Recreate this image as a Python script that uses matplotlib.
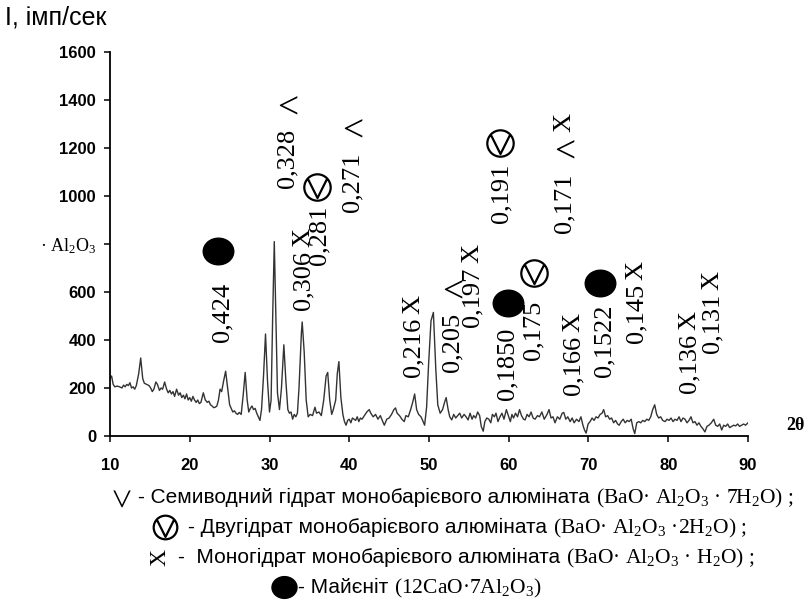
import matplotlib
matplotlib.use('Agg')
import matplotlib.pyplot as plt
from matplotlib.path import Path
from matplotlib.transforms import Affine2D
from matplotlib.lines import Line2D

plt.rcParams['font.family'] = ['Liberation Sans', 'DejaVu Sans']
plt.rcParams['mathtext.fontset'] = 'custom'
plt.rcParams['mathtext.rm'] = 'Liberation Serif'
plt.rcParams['mathtext.it'] = 'Liberation Serif:italic'
plt.rcParams['mathtext.bf'] = 'Liberation Serif:bold'

# XRD pattern (2 theta, counts per second)
two_theta = [10.0, 10.2, 10.4, 10.6, 10.9, 11.2, 11.5, 11.7, 11.9, 12.1,
             12.3, 12.5, 12.7, 12.9, 13.1, 13.3, 13.6, 13.85, 14.1, 14.3,
             14.6, 14.9, 15.1, 15.3, 15.5, 15.75, 15.95, 16.2, 16.4, 16.6,
             16.85, 17.1, 17.3, 17.5, 17.7, 17.9, 18.1, 18.35, 18.6, 18.8,
             19.0, 19.2, 19.4, 19.6, 19.8, 20.0, 20.2, 20.4, 20.6, 20.8,
             21.0, 21.2, 21.4, 21.7, 21.95, 22.2, 22.4, 22.6, 22.8, 23.0,
             23.2, 23.4, 23.6, 23.8, 24.0, 24.25, 24.5, 24.75, 25.0, 25.2,
             25.4, 25.6, 25.8, 26.0, 26.2, 26.45, 26.7, 26.95, 27.2, 27.4,
             27.6, 27.8, 28.0, 28.2, 28.4, 28.6, 28.8, 29.0, 29.25, 29.5,
             29.75, 30.0, 30.2, 30.4, 30.6, 30.8, 31.0, 31.25, 31.5, 31.8,
             32.05, 32.3, 32.5, 32.7, 32.9, 33.1, 33.3, 33.5, 33.7, 34.0,
             34.1, 34.35, 34.6, 34.85, 35.1, 35.4, 35.7, 35.9, 36.2, 36.5,
             36.8, 37.1, 37.3, 37.55, 37.8, 38.0, 38.3, 38.5, 38.7, 38.95,
             39.2, 39.4, 39.6, 39.8, 40.0, 40.2, 40.4, 40.6, 40.8, 41.0,
             41.2, 41.4, 41.6, 41.9, 42.2, 42.5, 42.7, 43.0, 43.3, 43.6,
             43.9, 44.2, 44.4, 44.7, 45.0, 45.3, 45.6, 45.8, 46.0, 46.3,
             46.6, 46.9, 47.1, 47.4, 47.7, 47.95, 48.2, 48.45, 48.7, 49.0,
             49.2, 49.45, 49.7, 49.95, 50.25, 50.55, 50.85, 51.1, 51.4, 51.7,
             51.95, 52.15, 52.4, 52.6, 52.85, 53.1, 53.35, 53.6, 53.85, 54.1,
             54.4, 54.65, 54.9, 55.15, 55.4, 55.6, 55.85, 56.1, 56.35, 56.55,
             56.8, 57.0, 57.25, 57.5, 57.75, 57.95, 58.2, 58.4, 58.65, 58.9,
             59.15, 59.4, 59.7, 59.95, 60.2, 60.4, 60.6, 60.85, 61.1, 61.35,
             61.6, 61.85, 62.05, 62.3, 62.55, 62.8, 63.05, 63.3, 63.6, 63.85,
             64.15, 64.45, 64.8, 65.05, 65.3, 65.55, 65.8, 66.1, 66.4, 66.7,
             66.9, 67.15, 67.4, 67.7, 67.95, 68.2, 68.5, 68.8, 69.05, 69.3,
             69.5, 69.7, 69.95, 70.2, 70.45, 70.7, 70.95, 71.2, 71.45, 71.7,
             71.9, 72.15, 72.4, 72.65, 72.9, 73.15, 73.4, 73.65, 73.85, 74.1,
             74.35, 74.6, 74.85, 75.1, 75.35, 75.6, 75.8, 76.05, 76.3, 76.55,
             76.8, 77.05, 77.3, 77.55, 77.8, 78.05, 78.3, 78.55, 78.8, 79.05,
             79.3, 79.6, 79.85, 80.1, 80.35, 80.6, 80.85, 81.1, 81.35, 81.6,
             81.85, 82.1, 82.35, 82.6, 82.85, 83.1, 83.35, 83.6, 83.85, 84.1,
             84.35, 84.6, 84.85, 85.1, 85.4, 85.7, 85.95, 86.2, 86.45, 86.7,
             86.95, 87.2, 87.45, 87.7, 87.95, 88.2, 88.45, 88.7, 88.95, 89.2,
             89.45, 89.7, 90.0]
intensity = [240, 250, 215, 205, 208, 205, 200, 212, 205, 215,
             210, 222, 200, 205, 195, 210, 260, 325, 240, 220,
             215, 210, 200, 185, 195, 225, 215, 190, 200, 195,
             225, 195, 180, 190, 175, 185, 165, 195, 170, 180,
             160, 170, 155, 175, 150, 160, 145, 165, 150, 140,
             150, 135, 140, 180, 150, 140, 145, 130, 125, 118,
             120, 125, 150, 195, 185, 230, 270, 200, 130, 115,
             100, 105, 95, 90, 98, 90, 170, 265, 150, 100,
             115, 125, 110, 115, 95, 80, 65, 110, 250, 425,
             230, 100, 150, 500, 810, 500, 180, 110, 200, 380,
             230, 110, 95, 100, 70, 90, 80, 95, 200, 430,
             475, 350, 150, 80, 90, 85, 120, 95, 100, 85,
             150, 250, 265, 150, 90, 110, 150, 260, 310, 160,
             90, 60, 45, 65, 70, 55, 75, 70, 65, 80,
             60, 75, 70, 85, 100, 110, 95, 80, 90, 70,
             85, 60, 45, 70, 75, 90, 110, 117, 95, 85,
             70, 60, 85, 80, 110, 140, 175, 110, 90, 80,
             65, 45, 120, 300, 480, 515, 280, 130, 95, 110,
             140, 160, 110, 80, 67, 90, 75, 85, 95, 75,
             90, 80, 67, 95, 70, 85, 75, 100, 85, 40,
             20, 60, 75, 70, 55, 90, 80, 95, 60, 80,
             95, 70, 110, 85, 60, 90, 75, 95, 80, 110,
             85, 70, 67, 90, 80, 100, 75, 70, 85, 80,
             100, 70, 90, 110, 75, 80, 55, 80, 70, 95,
             98, 70, 80, 60, 75, 55, 70, 60, 80, 45,
             25, 12, 50, 60, 75, 65, 80, 75, 90, 95,
             110, 80, 85, 70, 75, 55, 65, 50, 45, 60,
             70, 55, 65, 60, 70, 30, 10, 55, 60, 55,
             65, 60, 70, 65, 80, 110, 130, 90, 75, 80,
             65, 60, 70, 65, 75, 60, 70, 65, 80, 60,
             75, 70, 55, 65, 80, 55, 60, 45, 55, 40,
             30, 17, 40, 45, 55, 70, 45, 40, 50, 25,
             45, 40, 50, 35, 40, 45, 42, 50, 40, 45,
             50, 45, 55]

# d-spacing labels (nm) with phase symbols, and where they sit
peak_labels = ['0,424', '0,328 <', '0,306 X', '0,281', '0,271 <', '0,216 X',
               '0,205 <', '0,197 X', '0,191', '0,1850', '0,175', '0,171 < X',
               '0,166 X', '0,1522', '0,145 X', '0,136 X', '0,131 X']
label_x = [24.1, 32.3, 34.3, 36.3, 40.4, 48.0, 53.0, 55.5, 59.1, 59.9, 63.1,
           67.0, 68.1, 72.0, 76.0, 82.6, 85.5]
label_y = [392, 1033, 525, 712, 933, 246, 267, 454, 887, 150, 317, 846, 171,
           246, 387, 179, 346]

# circled-V marks (dihydrate) and filled circles (mayenite)
dihydrate_x = [36.0, 58.9, 63.2]
dihydrate_y = [1037, 1221, 679]
mayenite_x = [23.5, 59.9, 71.5]
mayenite_y = [771, 554, 637]

y_ticks = [0, 200, 400, 600, 800, 1000, 1200, 1400, 1600]
y_tick_labels = ['0', '200', '400', '600', '· Al$_2$O$_3$', '1000', '1200', '1400', '1600']
x_ticks = [10, 20, 30, 40, 50, 60, 70, 80, 90]

W, H = 812, 609
fig = plt.figure(figsize=(W / 100, H / 100), dpi=100)
ax = fig.add_axes([110 / W, 1 - 436 / H, 638 / W, 384 / H])

ax.plot(two_theta, intensity, color='#333333', linewidth=1.0)

circled_v = Path.make_compound_path(
    Path.unit_circle(),
    Path([(-0.7, 0.6), (0, -0.8), (0.7, 0.6)], [Path.MOVETO, Path.LINETO, Path.LINETO]))
ellipse = Path.unit_circle().transformed(Affine2D().scale(1.0, 0.87))

ax.plot(dihydrate_x, dihydrate_y, linestyle='none', marker=circled_v, markersize=19,
        markerfacecolor='none', markeredgecolor='black', markeredgewidth=1.6, clip_on=False)
ax.plot(mayenite_x, mayenite_y, linestyle='none', marker=ellipse, markersize=22,
        color='black', clip_on=False)

for lab, x, y in zip(peak_labels, label_x, label_y):
    parts = lab.split(' ')
    t = ax.text(x, y, parts[0], rotation=90, ha='center', va='bottom',
                fontsize=19, family='Liberation Serif')
    for p in parts[1:]:
        if p == '<':
            t = ax.annotate(p, xy=(0.5, 1), xycoords=t, xytext=(0, 2), textcoords='offset points',
                            ha='center', va='bottom', fontsize=27, family='Liberation Serif')
        else:
            t = ax.annotate(p, xy=(0.5, 1), xycoords=t, xytext=(0, 3), textcoords='offset points',
                            rotation=90, ha='center', va='bottom', fontsize=19,
                            family='Liberation Serif')

ax.set_xlim(10, 90)
ax.set_ylim(0, 1600)
ax.set_xticks(x_ticks, [str(v) for v in x_ticks], fontsize=12, fontweight='bold')
ax.set_yticks(y_ticks, y_tick_labels, fontsize=12, fontweight='bold')
lbl = ax.get_yticklabels()[4]
lbl.set_fontfamily('Liberation Serif')
lbl.set_fontweight('normal')
lbl.set_fontsize(13)
ax.tick_params(axis='both', direction='out', length=4, width=1.1)
ax.tick_params(axis='x', pad=12)
ax.tick_params(axis='y', pad=6)
for side in ['top', 'right']:
    ax.spines[side].set_visible(False)
for side in ['left', 'bottom']:
    ax.spines[side].set_linewidth(1.3)

fig.text(5 / W, 1 - 18 / H, 'I, імп/сек', fontsize=18, va='center', ha='left')
fig.text(795 / W, 1 - 425 / H, '2θ', fontsize=13, fontweight='bold',
         family='Liberation Serif', va='center', ha='center')

# legend rows under the chart
renderer = fig.canvas.get_renderer()


def text_row(x_px, y_px, parts):
    x = x_px / W
    for s, kw in parts:
        t = fig.text(x, 1 - y_px / H, s, va='baseline', ha='left', **kw)
        x = t.get_window_extent(renderer).x1 / fig.bbox.width


sans = dict(fontsize=15)
serif = dict(fontsize=15.5, family='Liberation Serif')

fig.text(125 / W, 1 - 497 / H, '<', rotation=90, fontsize=26, family='Liberation Serif',
         ha='center', va='center')
text_row(138, 503, [('- Семиводний гідрат монобарієвого алюміната ', sans),
                    ('(BaO· Al$_2$O$_3$ · 7H$_2$O) ;', serif)])

fig.add_artist(Line2D([165 / W], [1 - 527 / H], marker=circled_v, markersize=17,
                      markerfacecolor='none', markeredgecolor='black', markeredgewidth=1.6,
                      transform=fig.transFigure))
text_row(188, 533, [('- Двугідрат монобарієвого алюміната ', sans),
                    ('(BaO· Al$_2$O$_3$ ·2H$_2$O) ;', serif)])

fig.text(160 / W, 1 - 557 / H, 'X', rotation=90, fontsize=17, family='Liberation Serif',
         ha='center', va='center')
text_row(178, 563, [('-  Моногідрат монобарієвого алюміната ', sans),
                    ('(BaO· Al$_2$O$_3$ · H$_2$O) ;', serif)])

fig.add_artist(Line2D([284 / W], [1 - 587 / H], marker=ellipse, markersize=18,
                      color='black', transform=fig.transFigure))
text_row(298, 593, [('- Майєніт ', sans), ('(12CaO·7Al$_2$O$_3$)', serif)])

fig.savefig('out.png', dpi=100)
